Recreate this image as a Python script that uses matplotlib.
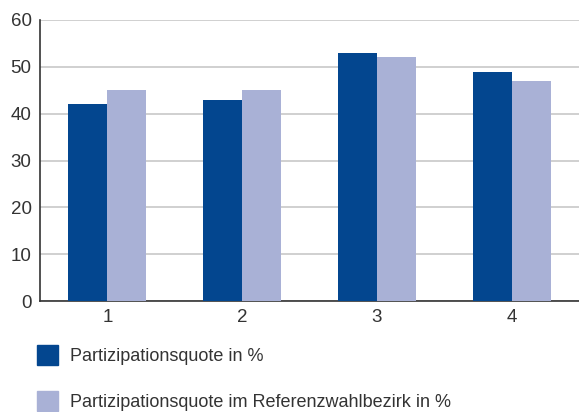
import matplotlib
matplotlib.use("Agg")
import matplotlib.pyplot as plt
import numpy as np
from matplotlib.patches import Patch

# data
categories = ["1", "2", "3", "4"]
quote = [42, 43, 53, 49]
quote_ref = [45, 45, 52, 47]
labels = ["Partizipationsquote in %", "Partizipationsquote im Referenzwahlbezirk in %"]

DARK = "#03468f"
LIGHT = "#a9b1d6"

plt.rcParams["font.family"] = ["Liberation Sans Narrow", "Liberation Sans", "DejaVu Sans"]

fig = plt.figure(figsize=(5.79, 4.12), dpi=100)
ax = fig.add_axes([40 / 579, 111 / 412, 539 / 579, 281 / 412])

x = np.arange(1, len(categories) + 1)
w = 0.29
ax.bar(x - w / 2, quote, width=w, color=DARK, zorder=3)
ax.bar(x + w / 2, quote_ref, width=w, color=LIGHT, zorder=3)

ax.set_xlim(0.5, 4.5)
ax.set_ylim(0, 60)
ax.set_yticks(range(0, 61, 10))
ax.set_xticks(x)
ax.set_xticklabels(categories)
ax.yaxis.grid(True, color="#c8c8c8", linewidth=1.2, zorder=0)
ax.set_axisbelow(True)

for s in ["top", "right"]:
    ax.spines[s].set_visible(False)
for s in ["left", "bottom"]:
    ax.spines[s].set_color("#333333")
    ax.spines[s].set_linewidth(1.2)
ax.tick_params(length=0, labelsize=13.5, colors="#333333", pad=6)

handles = [Patch(color=DARK), Patch(color=LIGHT)]
fig.legend(handles, labels, loc="upper left", bbox_to_anchor=(37 / 579, 1 - 345 / 412),
           frameon=False, fontsize=13, handlelength=1.15, handleheight=1.3,
           handletextpad=0.7, labelspacing=1.45, borderpad=0, borderaxespad=0,
           labelcolor="#333333")

fig.savefig("out.png", dpi=100)
